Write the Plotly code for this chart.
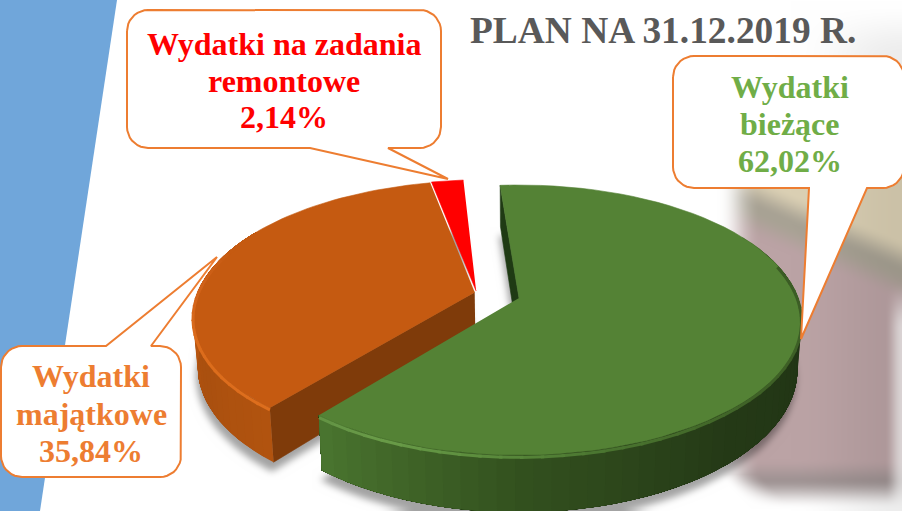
import base64, struct, zlib
import numpy as np
import plotly.graph_objects as go

# ---- data ----
slice_names = ["Wydatki bieżące", "Wydatki majątkowe", "Wydatki na zadania remontowe"]
slice_values = [62.02, 35.84, 2.14]
value_labels = ["62,02%", "35,84%", "2,14%"]
title_text = "PLAN NA 31.12.2019 R."
label_lines = [["Wydatki", "bieżące"], ["Wydatki", "majątkowe"], ["Wydatki na zadania", "remontowe"]]

W, H = 902, 511
CX, CY, AX, BY, K = 519.0, 298.0, 279.0, 131.4, 0.163
DEPTH = 48.0
START = -4.5
OFFSETS = [(0.0, 0.0), (-0.16, 0.045), (-0.155, 0.054)]
ORANGE_LINE = "#ed7d31"
TEXT_COLORS = ["#70ad47", "#ed7d31", "#ff0000"]
TOP_COLORS = ["#548235", "#c55a11", "#ff0000"]
FONT = "Liberation Serif"


def proj(theta_deg, off, r=1.0, depth=0.0):
    th = np.radians(np.asarray(theta_deg, dtype=float))
    X = r * np.sin(th) + off[0]
    Y = r * np.cos(th) + off[1]
    den = 1 + K * Y
    x = CX + AX * X / den
    y = CY - BY * Y / den
    if depth:
        shrink = 1 - 0.015 * depth / DEPTH
        x = CX + (x - CX) * shrink
        y = y + depth / den
    return x, y


def hexrgb(h):
    return tuple(int(h[i:i + 2], 16) for i in (1, 3, 5))


# angles come from the values
angles = []
cur = START
for v in slice_values:
    angles.append((cur, cur + v * 3.6))
    cur += v * 3.6


# ---- soft background picture ----
def smooth(a, b, v):
    t = np.clip((v - a) / (b - a), 0, 1)
    return t * t * (3 - 2 * t)


def blur(a, r):
    for _ in range(3):
        for ax in (0, 1):
            c = np.cumsum(np.insert(a, 0, 0, axis=ax), axis=ax)
            n = a.shape[ax]
            lo = np.clip(np.arange(n) - r, 0, n)
            hi = np.clip(np.arange(n) + r + 1, 0, n)
            if ax == 0:
                a = (c[hi, :] - c[lo, :]) / (hi - lo)[:, None]
            else:
                a = (c[:, hi] - c[:, lo]) / (hi - lo)[None, :]
    return a


def raster(px, py):
    yy, xx = np.mgrid[0:H, 0:W]
    inside = np.zeros((H, W), dtype=bool)
    n = len(px)
    for i in range(n):
        x1, y1, x2, y2 = px[i], py[i], px[(i + 1) % n], py[(i + 1) % n]
        if y1 == y2:
            continue
        c = ((y1 <= yy) != (y2 <= yy)) & (xx < x1 + (yy - y1) * (x2 - x1) / (y2 - y1))
        inside ^= c
    return inside.astype(float)


def sector_outline(a0, a1, off, depth):
    th = np.linspace(a0, a1, 70)
    x, y = proj(th, off, depth=depth)
    ax_, ay_ = proj(0, off, r=0, depth=depth)
    return np.r_[ax_, x], np.r_[ay_, y]


def background():
    yy, xx = np.mgrid[0:H, 0:W].astype(float)
    beige = np.array([219, 208, 180.])
    gray = np.array([168, 162, 148.])
    pink = np.array([187, 163, 165.])
    low = np.array([158, 146, 146.])
    t = yy - (223 + 0.43 * (xx - 790))
    col = np.empty((H, W, 3)) + beige
    col += (gray - col) * smooth(-32, 0, t)[..., None]
    col += (pink - col) * smooth(0, 32, t)[..., None]
    col += (low - col) * smooth(458, 484, yy)[..., None]
    m = smooth(692, 745, xx) * smooth(105, 182, yy)
    m *= 1 - smooth(478, 509, yy)
    m *= smooth(-22, 22, xx - (738 + np.clip(yy - 474, 0, None)))
    m *= 1 - 0.7 * smooth(884, 902, xx) * smooth(280, 330, yy)
    img = 255 + (col - 255) * m[..., None]
    img = img * (1 - 0.07 * smooth(790, 900, xx) * smooth(0, 56, yy))[..., None]
    shadow = np.zeros((H, W))
    for i, off in enumerate(OFFSETS[:2]):
        a0, a1 = angles[i] if i == 0 else (angles[1][0], angles[2][1])
        px, py = sector_outline(a0, a1, off, DEPTH)
        shadow = np.maximum(shadow, raster(px - 2, py + 9))
    shadow = blur(shadow, 3)
    img = img * (1 - 0.36 * shadow[..., None])
    return np.clip(img, 0, 255).astype(np.uint8)


def png_uri(arr):
    h, w, _ = arr.shape
    raw = b"".join(b"\x00" + arr[i].tobytes() for i in range(h))

    def chunk(t, d):
        return struct.pack(">I", len(d)) + t + d + struct.pack(">I", zlib.crc32(t + d) & 0xffffffff)

    data = b"\x89PNG\r\n\x1a\n" + chunk(b"IHDR", struct.pack(">IIBBBBB", w, h, 8, 2, 0, 0, 0)) \
        + chunk(b"IDAT", zlib.compress(raw, 9)) + chunk(b"IEND", b"")
    return "data:image/png;base64," + base64.b64encode(data).decode()


fig = go.Figure()


def poly(x, y, fill, line=None, lw=0.6):
    fig.add_trace(go.Scatter(x=list(x), y=list(y), mode="lines", fill="toself", fillcolor=fill,
                             line=dict(color=line or fill, width=lw), hoverinfo="skip",
                             showlegend=False))


def grad(m, stops):
    sa = [s[0] for s in stops]
    rgb = [np.interp(m, sa, [hexrgb(s[1])[c] for s in stops]) for c in range(3)]
    return "#%02x%02x%02x" % tuple(int(v) for v in rgb)


def wall(a0, a1, off, stops, n=48):
    # bands are painted one after another, each one overlapping the rest of the arc, so no seams show
    edges = np.linspace(a0, a1, n + 1)
    for i in range(n):
        th = np.linspace(edges[i], a1, max(4, n - i + 2))
        xt, yt = proj(th, off)
        xb, yb = proj(th, off, depth=DEPTH)
        m = (edges[i] + edges[i + 1]) / 2
        fig.add_trace(go.Scatter(x=list(np.r_[xt, xb[::-1]]), y=list(np.r_[yt, yb[::-1]]), mode="lines",
                                 fill="toself", fillcolor=grad(m, stops), line=dict(width=0),
                                 hoverinfo="skip", showlegend=False))


def rim(a0, a1, off, stops, n=30, depth=2.0, width=3.0):
    edges = np.linspace(a0, a1, n + 1)
    for i in range(n):
        e1 = min(edges[i + 1] + 0.6, a1)
        th = np.linspace(edges[i], e1, 4)
        x, y = proj(th, off, depth=depth)
        m = (edges[i] + edges[i + 1]) / 2
        fig.add_trace(go.Scatter(x=list(x), y=list(y), mode="lines",
                                 line=dict(color=grad(m, stops), width=width),
                                 hoverinfo="skip", showlegend=False))


def top(a0, a1, off, color):
    px, py = sector_outline(a0, a1, off, 0)
    poly(px, py, color)


def radial_wall(theta, off, color):
    xo, yo = proj(theta, off)
    xa, ya = proj(0, off, r=0)
    xob, yob = proj(theta, off, depth=DEPTH)
    xab, yab = proj(0, off, r=0, depth=DEPTH)
    poly([xa, xo, xob, xab], [ya, yo, yob, yab], color)


# blue slide stripe
fig.add_trace(go.Scatter(x=[0, 117, 40, 0], y=[0, 0, 511, 511], mode="lines", fill="toself",
                         fillcolor="#70a6da", line=dict(color="#70a6da", width=0),
                         hoverinfo="skip", showlegend=False))

# orange + red piece
oa0, oa1 = angles[1]
ra0, ra1 = angles[2]
off = OFFSETS[1]
radial_wall(oa0, off, "#7f3b0a")
wall(oa0, 300, off, [(218, "#b2540f"), (245, "#aa500f"), (275, "#c25a12"), (300, "#c25a12")], n=30)
top(oa0, oa1, off, TOP_COLORS[1])
top(ra0, ra1, OFFSETS[2], TOP_COLORS[2])
rim(oa0, 292, off, [(218, "#de6f1e"), (250, "#dc6c1c"), (275, "#d0621a"), (292, "#c55a11")], n=24)

# green piece
ga0, ga1 = angles[0]
off = OFFSETS[0]
radial_wall(ga0, off, "#1f3a14")
wall(60, ga1, off, [(60, "#213515"), (100, "#213515"), (140, "#253a17"), (180, "#33511f"), (219, "#4b7630")], n=50)
top(ga0, ga1, off, TOP_COLORS[0])
rim(75, ga1, off, [(75, "#3b5c25"), (130, "#3f6127"), (165, "#4a7530"), (190, "#5f9040"), (205, "#6a9c49"), (219, "#629344")], n=40)


# ---- callouts ----
def callout(x0, y0, x1, y1, r, tail):
    """rounded box, tail = (side, t0, tipx, tipy, t1)"""
    px, py = [], []

    def arc(cx, cy, a, b):
        t = np.radians(np.linspace(a, b, 10))
        px.extend(cx + r * np.cos(t))
        py.extend(cy + r * np.sin(t))

    side, t0, tx, ty, t1 = tail
    arc(x0 + r, y0 + r, 180, 270)
    if side == "top":
        px.extend([t0, tx, t1])
        py.extend([y0, ty, y0])
    arc(x1 - r, y0 + r, 270, 360)
    arc(x1 - r, y1 - r, 0, 90)
    if side == "bottom":
        px.extend([t1, tx, t0])
        py.extend([y1, ty, y1])
    arc(x0 + r, y1 - r, 90, 180)
    px.append(px[0])
    py.append(py[0])
    poly(px, py, "#ffffff", line=ORANGE_LINE, lw=2)


callout(673, 56, 904, 188, 21, ("bottom", 809, 801, 339, 867))
callout(1, 346, 181, 477, 21, ("top", 106, 217, 257, 151))
callout(127, 10, 441, 148, 21, ("bottom", 310, 448, 179, 388))

annots = []


def text(x, y, s, color, size):
    annots.append(dict(x=x, y=y, text="<b>%s</b>" % s, showarrow=False, xanchor="center", yanchor="middle",
                       font=dict(family=FONT, size=size, color=color)))


SIZE = 32
rows = [
    (790, [87, 124, 161], 0),
    (91, [376, 414, 451], 1),
    (284, [44, 81, 117], 2),
]
for cx_, ys, i in rows:
    lines = label_lines[i] + [value_labels[i]]
    for y_, s in zip(ys, lines):
        text(cx_, y_, s, TEXT_COLORS[i], SIZE)
text(663, 30, title_text, "#595959", 37.4)

fig.update_layout(
    width=W, height=H, margin=dict(l=0, r=0, t=0, b=0), showlegend=False,
    paper_bgcolor="#ffffff", plot_bgcolor="rgba(0,0,0,0)",
    xaxis=dict(range=[0, W], visible=False, fixedrange=True),
    yaxis=dict(range=[H, 0], visible=False, fixedrange=True),
    annotations=annots,
    images=[dict(source=png_uri(background()), xref="x", yref="y", x=0, y=0, sizex=W, sizey=H,
                 xanchor="left", yanchor="top", sizing="stretch", layer="below")],
)
fig.write_html("out.html", config=dict(displayModeBar=False),
               post_script="document.body.style.margin='0';")
